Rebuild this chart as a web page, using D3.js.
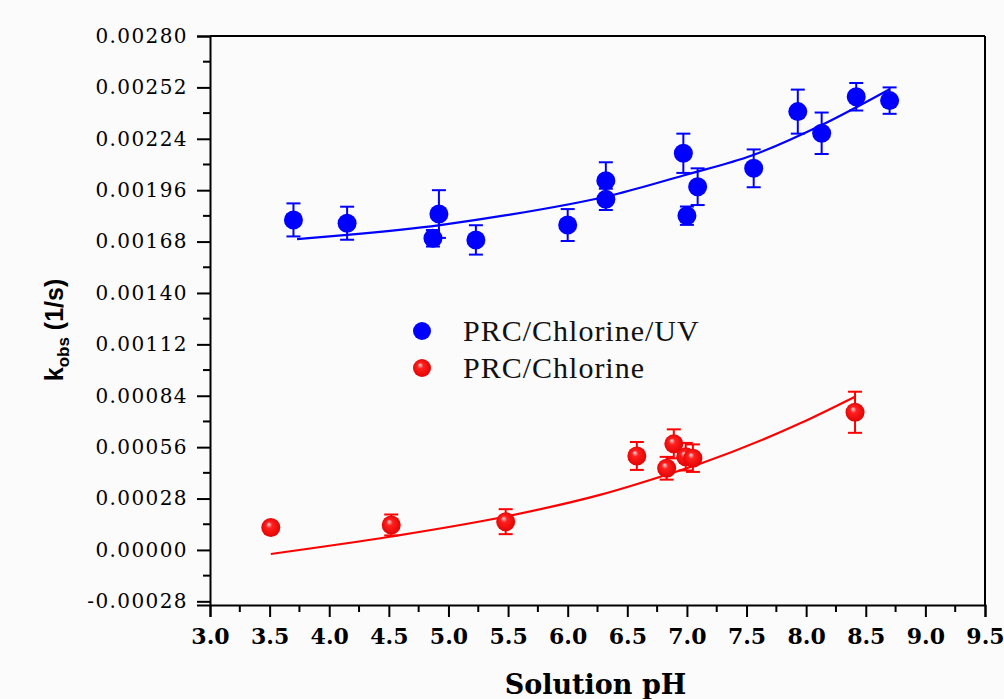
<!DOCTYPE html>
<html>
<head>
<meta charset="utf-8">
<script src="https://cdn.jsdelivr.net/npm/d3@7"></script>
<style>
  body { margin: 0; background: #fbfbfb; }
  #myPlot { width: 1004px; height: 699px; }
</style>
</head>
<body>
<div id="myPlot"></div>
<script>
// values
const uvPH    = [3.70, 4.15, 4.92, 4.87, 5.23, 6.00, 6.32, 6.32, 6.97, 7.00, 7.09, 7.56, 7.93, 8.13, 8.42, 8.70]
const uvK     = [0.001798, 0.00178, 0.00183, 0.001698, 0.001689, 0.00177, 0.002012, 0.00191, 0.002161, 0.001821, 0.001979, 0.002079, 0.002388, 0.00227, 0.002469, 0.002448]
const uvErr   = [0.00009, 0.00009, 0.00013, 0.000045, 0.00008, 0.000087, 0.0001, 0.000058, 0.000107, 0.00005, 0.0001, 0.000103, 0.00012, 0.000113, 0.000075, 0.000072]

const clPH    = [3.51, 4.52, 5.48, 6.58, 6.83, 6.89, 6.99, 7.05, 8.41]
const clK     = [0.000122, 0.000136, 0.000154, 0.000512, 0.000445, 0.000578, 0.000508, 0.0005, 0.00075]
const clErr   = [0.00001, 0.000057, 0.000068, 0.000076, 0.000062, 0.000079, 0.000075, 0.000075, 0.000112]

// fitted curves
const uvFitPH = [3.73, 4.15, 4.93, 5.50, 6.38, 6.97, 7.55, 8.13, 8.70]
const uvFitK  = [0.001693, 0.001716, 0.00177, 0.001825, 0.001934, 0.00204, 0.00215, 0.002315, 0.00251]
const clFitPH = [3.51, 4.52, 5.48, 6.27, 6.83, 7.11, 7.95, 8.41]
const clFitK  = [-0.000022, 0.000073, 0.000182, 0.0003, 0.00041, 0.00047, 0.00069, 0.000835]

const xTicks = d3.range(3.0, 9.51, 0.5)
const yTicks = d3.range(-0.00028, 0.00281, 0.00028)
const seriesNames = ["PRC/Chlorine/UV", "PRC/Chlorine"]

const margin = {top: 36, right: 19, bottom: 94, left: 210}
const clientWidth = 1004
const clientHeight = 699
const width = clientWidth - margin.left - margin.right
const height = clientHeight - margin.top - margin.bottom

const svg = d3.select("#myPlot").append("svg")
    .attr("width", clientWidth)
    .attr("height", clientHeight)

const defs = svg.append("defs")
const grad = defs.append("radialGradient")
    .attr("id", "redBall")
    .attr("cx", "50%").attr("cy", "50%").attr("r", "55%")
    .attr("fx", "38%").attr("fy", "32%")
grad.append("stop").attr("offset", "0%").attr("stop-color", "#ffd8d8")
grad.append("stop").attr("offset", "30%").attr("stop-color", "#ff2020")
grad.append("stop").attr("offset", "100%").attr("stop-color", "#e00000")

const g = svg.append("g")
    .attr("transform", `translate(${margin.left}, ${margin.top})`)

const xScale = d3.scaleLinear().domain([3.0, 9.5]).range([0, width])
const yScale = d3.scaleLinear().domain([-0.0003, 0.0028]).range([height, 0])

// frame
g.append("line").attr("x1", 0).attr("x2", width).attr("y1", 0).attr("y2", 0)
    .attr("stroke", "#000").attr("stroke-width", 2)
g.append("line").attr("x1", width).attr("x2", width).attr("y1", 0).attr("y2", height)
    .attr("stroke", "#000").attr("stroke-width", 2)

// minor ticks
const xMinor = d3.range(3.25, 9.5, 0.5)
const yMinor = d3.range(-0.00014, 0.0028, 0.00028)

const xAxis = d3.axisBottom(xScale)
    .tickValues(xTicks)
    .tickFormat(d3.format(".1f"))
    .tickSize(12)
    .tickPadding(11)
const xAxisG = g.append("g")
    .attr("transform", `translate(0, ${height})`)
    .call(xAxis)
xAxisG.select(".domain").attr("stroke-width", 2)
xAxisG.selectAll(".tick line").attr("stroke-width", 2)
xAxisG.selectAll(".tick text")
    .attr("font-family", "DejaVu Serif")
    .attr("font-weight", "bold")
    .attr("font-size", 22)
    .attr("fill", "#000")
g.append("g").attr("transform", `translate(0, ${height})`)
    .selectAll("line").data(xMinor).join("line")
    .attr("x1", d => xScale(d)).attr("x2", d => xScale(d))
    .attr("y1", 0).attr("y2", 7)
    .attr("stroke", "#000").attr("stroke-width", 2)

const fmtY = d3.format(".5f")
const yAxis = d3.axisLeft(yScale)
    .tickValues(yTicks)
    .tickFormat(d => fmtY(d).replace("\u2212", "-"))
    .tickSize(13)
    .tickPadding(9)
const yAxisG = g.append("g").call(yAxis)
yAxisG.select(".domain").attr("stroke-width", 2)
yAxisG.selectAll(".tick line").attr("stroke-width", 2)
yAxisG.selectAll(".tick text")
    .attr("font-family", "DejaVu Serif")
    .attr("font-size", 20)
    .attr("letter-spacing", 1.4)
    .attr("fill", "#000")
g.append("g")
    .selectAll("line").data(yMinor).join("line")
    .attr("x1", -7).attr("x2", 0)
    .attr("y1", d => yScale(d)).attr("y2", d => yScale(d))
    .attr("stroke", "#000").attr("stroke-width", 2)

// axis titles
svg.append("text")
    .attr("x", margin.left + width / 2 - 2)
    .attr("y", 694)
    .attr("text-anchor", "middle")
    .attr("font-family", "DejaVu Serif")
    .attr("font-weight", "bold")
    .attr("font-size", 27)
    .text("Solution pH")

const yTitle = svg.append("text")
    .attr("transform", "translate(63, 330) rotate(-90)")
    .attr("text-anchor", "middle")
    .attr("font-family", "Liberation Sans")
    .attr("font-weight", "bold")
    .attr("font-size", 25)
yTitle.append("tspan").text("k")
yTitle.append("tspan").attr("font-size", 17).attr("dy", 6).text("obs")
yTitle.append("tspan").attr("dy", -6).text(" (1/s)")

const zip = (xs, ys, es) => xs.map((x, i) => ({x, y: ys[i], e: es ? es[i] : 0}))
const uvData = zip(uvPH, uvK, uvErr)
const clData = zip(clPH, clK, clErr)

const line = d3.line()
    .x(d => xScale(d.x))
    .y(d => yScale(d.y))
    .curve(d3.curveMonotoneX)

function drawSeries(data, fitData, color, fill) {
    g.append("path")
        .datum(fitData)
        .attr("fill", "none")
        .attr("stroke", color)
        .attr("stroke-width", 2.2)
        .attr("d", line)

    const bars = g.append("g").attr("stroke", color).attr("stroke-width", 2)
    bars.selectAll(".v").data(data).join("line")
        .attr("x1", d => xScale(d.x)).attr("x2", d => xScale(d.x))
        .attr("y1", d => yScale(d.y + d.e)).attr("y2", d => yScale(d.y - d.e))
    bars.selectAll(".t").data(data).join("line")
        .attr("x1", d => xScale(d.x) - 7).attr("x2", d => xScale(d.x) + 7)
        .attr("y1", d => yScale(d.y + d.e)).attr("y2", d => yScale(d.y + d.e))
    bars.selectAll(".b").data(data).join("line")
        .attr("x1", d => xScale(d.x) - 7).attr("x2", d => xScale(d.x) + 7)
        .attr("y1", d => yScale(d.y - d.e)).attr("y2", d => yScale(d.y - d.e))

    g.append("g").selectAll("circle").data(data).join("circle")
        .attr("cx", d => xScale(d.x))
        .attr("cy", d => yScale(d.y))
        .attr("r", 9.5)
        .attr("fill", fill)
}

drawSeries(uvData, zip(uvFitPH, uvFitK), "#0000ff", "#0000ff")
drawSeries(clData, zip(clFitPH, clFitK), "#ff0000", "url(#redBall)")

// legend
const legend = svg.append("g")
const legendFills = ["#0000ff", "url(#redBall)"]
seriesNames.forEach((name, i) => {
    const y = 331 + i * 37
    legend.append("circle").attr("cx", 422).attr("cy", y).attr("r", 9).attr("fill", legendFills[i])
    legend.append("text")
        .attr("x", 463).attr("y", y + 10)
        .attr("font-family", "Liberation Serif")
        .attr("font-size", 30)
        .attr("letter-spacing", 1)
        .attr("fill", "#111")
        .text(name)
})
</script>
</body>
</html>
